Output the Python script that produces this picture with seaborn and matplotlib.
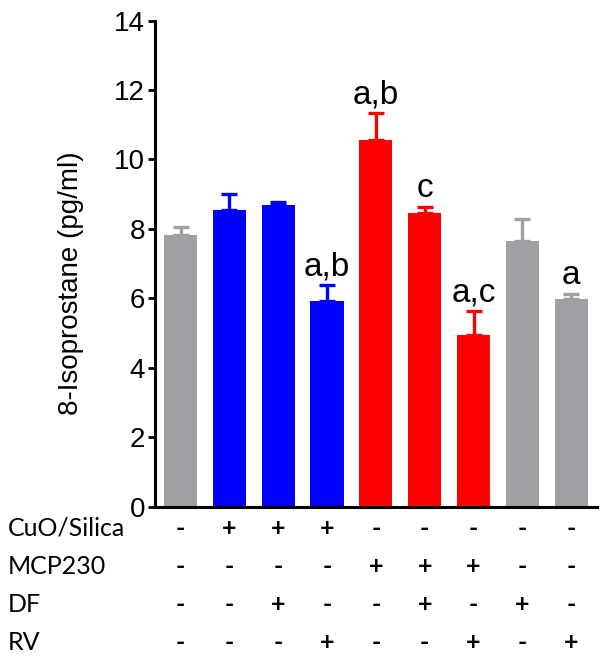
import numpy as np
import pandas as pd
import matplotlib
matplotlib.use("Agg")
import matplotlib.pyplot as plt
import matplotlib.transforms as mtransforms
import seaborn as sns

groups = ["G1", "G2", "G3", "G4", "G5", "G6", "G7", "G8", "G9"]
means = [7.82, 8.53, 8.68, 5.91, 10.55, 8.46, 4.94, 7.66, 5.98]
errs = [0.22, 0.48, 0.10, 0.46, 0.79, 0.17, 0.69, 0.61, 0.15]
colors = ["#a0a0a4", "#0000ff", "#0000ff", "#0000ff", "#ff0000", "#ff0000", "#ff0000", "#a0a0a4", "#a0a0a4"]
annots = ["", "", "", "a,b", "a,b", "c", "a,c", "", "a"]

row_labels = ["CuO/Silica", "MCP230", "DF", "RV"]
cuo = ["-", "+", "+", "+", "-", "-", "-", "-", "-"]
mcp = ["-", "-", "-", "-", "+", "+", "+", "-", "-"]
dfr = ["-", "-", "+", "-", "-", "+", "-", "+", "-"]
rv = ["-", "-", "-", "+", "-", "-", "+", "-", "+"]
rows = [cuo, mcp, dfr, rv]

yticks = [0, 2, 4, 6, 8, 10, 12, 14]

sns.set_style("ticks")
plt.rcParams["font.family"] = ["Liberation Sans", "DejaVu Sans"]
plt.rcParams["text.color"] = "black"
plt.rcParams["axes.labelcolor"] = "black"
plt.rcParams["axes.edgecolor"] = "black"
plt.rcParams["ytick.color"] = "black"

fig = plt.figure(figsize=(6.0, 6.63), dpi=100)
ax = fig.add_axes([0.258, 0.236, 0.737, 0.733])

data = pd.DataFrame({"group": groups, "value": means})
sns.barplot(data=data, x="group", y="value", hue="group", palette=colors,
            width=0.68, errorbar=None, legend=False, ax=ax, saturation=1, linewidth=0)

x = np.arange(len(groups))
for xi, m, e, c in zip(x, means, errs, colors):
    ax.errorbar([xi], [m], yerr=[[0], [e]], fmt="none", ecolor=c,
                elinewidth=2.4, capsize=6, capthick=2.4, zorder=1)

for xi, m, e, t in zip(x, means, errs, annots):
    if t:
        ax.annotate(t, (xi, m + e), xytext=(0, 2), textcoords="offset points",
                    ha="center", va="bottom", fontsize=24, color="black")

ax.set_ylim(0, 14)
ax.set_xlim(-0.53, 8.53)
ax.set_yticks(yticks)
ax.set_yticklabels([str(v) for v in yticks], fontsize=20, color="black")
ax.set_xticks([])
ax.set_xlabel("")
ax.set_ylabel("")
for s in ["top", "right"]:
    ax.spines[s].set_visible(False)
ax.spines["left"].set_linewidth(2.2)
ax.spines["bottom"].set_linewidth(2.2)
ax.spines["left"].set_color("black")
ax.spines["bottom"].set_color("black")
ax.tick_params(axis="y", width=2, length=5, pad=2, colors="black")

fig.text(0.118, 0.573, "8-Isoprostane (pg/ml)", rotation=90, ha="center", va="center",
         fontsize=20, color="black")

trans = mtransforms.blended_transform_factory(ax.transData, fig.transFigure)
row_y = [528, 567, 605, 643]
for lab, vals, yp in zip(row_labels, rows, row_y):
    yf = 1 - yp / 663
    fig.text(0.013, yf, lab, ha="left", va="center", fontsize=18, color="black",
             family=["Lato", "DejaVu Sans"])
    for xi, v in zip(x, vals):
        ax.text(xi, yf, v, transform=trans, ha="center", va="center", color="black",
                fontsize=18, fontweight="bold", family=["Lato", "DejaVu Sans"], clip_on=False)

fig.savefig("out.png", dpi=100)
